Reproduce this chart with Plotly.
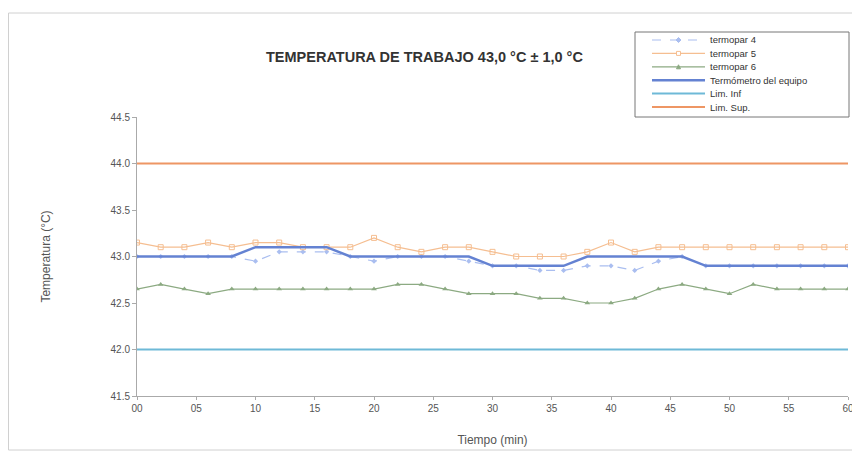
import plotly.graph_objects as go

# tiempo (min) y lecturas
tiempo = list(range(0, 61, 2))

termopar4 = [43.0, 43.0, 43.0, 43.0, 43.0, 42.95, 43.05, 43.05, 43.05, 43.0, 42.95,
             43.0, 43.0, 43.0, 42.95, 42.9, 42.9, 42.85, 42.85, 42.9, 42.9, 42.85,
             42.95, 43.0, 42.9, 42.9, 42.9, 42.9, 42.9, 42.9, 42.9]
termopar5 = [43.15, 43.1, 43.1, 43.15, 43.1, 43.15, 43.15, 43.1, 43.1, 43.1, 43.2,
             43.1, 43.05, 43.1, 43.1, 43.05, 43.0, 43.0, 43.0, 43.05, 43.15, 43.05,
             43.1, 43.1, 43.1, 43.1, 43.1, 43.1, 43.1, 43.1, 43.1]
termopar6 = [42.65, 42.7, 42.65, 42.6, 42.65, 42.65, 42.65, 42.65, 42.65, 42.65, 42.65,
             42.7, 42.7, 42.65, 42.6, 42.6, 42.6, 42.55, 42.55, 42.5, 42.5, 42.55,
             42.65, 42.7, 42.65, 42.6, 42.7, 42.65, 42.65, 42.65, 42.65]
termometro = [43.0, 43.0, 43.0, 43.0, 43.0, 43.1, 43.1, 43.1, 43.1, 43.0, 43.0,
              43.0, 43.0, 43.0, 43.0, 42.9, 42.9, 42.9, 42.9, 43.0, 43.0, 43.0,
              43.0, 43.0, 42.9, 42.9, 42.9, 42.9, 42.9, 42.9, 42.9]
lim_inf = [42.0] * len(tiempo)
lim_sup = [44.0] * len(tiempo)

x_ticks = list(range(0, 61, 5))
x_labels = ["00", "05", "10", "15", "20", "25", "30", "35", "40", "45", "50", "55", "60"]
nombres = ["termopar 4", "termopar 5", "termopar 6", "Termómetro del equipo", "Lim. Inf", "Lim. Sup."]

# estilos
C4, C5, C6 = "rgb(170,190,240)", "rgb(245,190,145)", "rgb(140,170,130)"
CT, CI, CS = "rgb(100,130,210)", "rgb(110,185,215)", "rgb(238,150,100)"

# la página tiene 8 px de margen en el body: la figura se achica para caber en 860x457
OFF = 8
W, H = 860 - OFF, 457 - OFF
L, R, T, B = 137 - OFF, 12, 117 - OFF, 61
pw, ph = W - L - R, H - T - B


def px(x):
    # x en píxeles de la ventana -> coordenada paper
    return (x - OFF - L) / pw


def py(y):
    return (H + OFF - B - y) / ph


fig = go.Figure()
fig.add_trace(go.Scatter(x=tiempo, y=termopar4, name=nombres[0], mode="lines+markers",
                         line=dict(color=C4, width=1.2, dash="dash"),
                         marker=dict(symbol="diamond", size=4, color=C4)))
fig.add_trace(go.Scatter(x=tiempo, y=termopar5, name=nombres[1], mode="lines+markers",
                         line=dict(color=C5, width=1.2),
                         marker=dict(symbol="square-open", size=5, color=C5)))
fig.add_trace(go.Scatter(x=tiempo, y=termopar6, name=nombres[2], mode="lines+markers",
                         line=dict(color=C6, width=1.2),
                         marker=dict(symbol="triangle-up", size=5, color=C6)))
fig.add_trace(go.Scatter(x=tiempo, y=termometro, name=nombres[3], mode="lines",
                         line=dict(color=CT, width=2.5)))
fig.add_trace(go.Scatter(x=tiempo, y=lim_inf, name=nombres[4], mode="lines",
                         line=dict(color=CI, width=2)))
fig.add_trace(go.Scatter(x=tiempo, y=lim_sup, name=nombres[5], mode="lines",
                         line=dict(color=CS, width=2)))

# leyenda compacta hecha a mano (la nativa es demasiado alta)
shapes = [
    dict(type="rect", xref="paper", yref="paper", x0=px(8.5), x1=px(855), y0=py(450), y1=py(13),
         line=dict(color="#d0d0d0", width=1)),
    dict(type="rect", xref="paper", yref="paper", x0=px(635), x1=px(849), y0=py(117), y1=py(32),
         line=dict(color="#777", width=1), fillcolor="white", layer="above"),
]
annotations = []
estilos = [(C4, 1.2, "dash", 2.5), (C5, 1.2, "solid", 2), (C6, 1.2, "solid", 2),
           (CT, 2.5, "solid", 0), (CI, 2, "solid", 0), (CS, 2, "solid", 0)]
for i, (nombre, (col, w, dash, m)) in enumerate(zip(nombres, estilos)):
    yc = 40 + i * 13.4
    shapes.append(dict(type="line", xref="paper", yref="paper", x0=px(652), x1=px(705),
                       y0=py(yc), y1=py(yc), line=dict(color=col, width=w, dash=dash)))
    if i == 0:
        shapes.append(dict(type="path", xref="paper", yref="paper", fillcolor=col,
                           line=dict(color=col, width=1),
                           path=f"M {px(678.5)} {py(yc - m)} L {px(678.5 + m)} {py(yc)} "
                                f"L {px(678.5)} {py(yc + m)} L {px(678.5 - m)} {py(yc)} Z"))
    elif i == 1:
        shapes.append(dict(type="rect", xref="paper", yref="paper", fillcolor="white",
                           line=dict(color=col, width=1),
                           x0=px(678.5 - m), x1=px(678.5 + m), y0=py(yc + m), y1=py(yc - m)))
    elif i == 2:
        shapes.append(dict(type="path", xref="paper", yref="paper", fillcolor=col,
                           line=dict(color=col, width=1),
                           path=f"M {px(678.5)} {py(yc - m)} L {px(678.5 + m)} {py(yc + m)} "
                                f"L {px(678.5 - m)} {py(yc + m)} Z"))
    annotations.append(dict(text=nombre, xref="paper", yref="paper", x=px(708), y=py(yc),
                            xanchor="left", yanchor="middle", showarrow=False,
                            font=dict(size=9.5, color="#333")))

annotations.append(dict(text="<b>TEMPERATURA DE TRABAJO 43,0 °C ± 1,0 °C</b>",
                        xref="paper", yref="paper", x=px(424), y=py(57),
                        xanchor="center", yanchor="middle", showarrow=False,
                        font=dict(size=14.5, color="#333")))

fig.update_layout(
    width=W, height=H,
    paper_bgcolor="white", plot_bgcolor="white",
    font=dict(family="Liberation Sans, Arial, sans-serif", size=10, color="#555"),
    margin=dict(l=L, r=R, t=T, b=B),
    showlegend=False,
    shapes=shapes,
    annotations=annotations,
)
fig.update_xaxes(range=[0, 60], tickvals=x_ticks, ticktext=x_labels, automargin=False,
                 showgrid=False, zeroline=False, showline=True, linecolor="#aaa",
                 ticks="outside", ticklen=3, tickcolor="#aaa",
                 title=dict(text="Tiempo (min)", font=dict(size=12), standoff=22))
fig.update_yaxes(range=[41.5, 44.5], tickvals=[41.5, 42.0, 42.5, 43.0, 43.5, 44.0, 44.5],
                 tickformat=".1f", showgrid=False, zeroline=False, showline=True,
                 automargin=False,
                 linecolor="#aaa", ticks="outside", ticklen=4, tickcolor="#aaa",
                 title=dict(text="Temperatura (°C)", font=dict(size=12), standoff=57))

fig.write_html("out.html")
